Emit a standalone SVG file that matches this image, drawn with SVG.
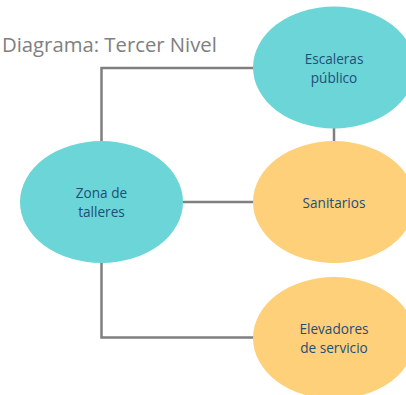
<svg xmlns="http://www.w3.org/2000/svg" width="406" height="395" viewBox="0 0 406 395">
<style>
.teal{fill:#6bd5d7}
.orange{fill:#fdd079}
.lbl{font-family:"Open Sans","Liberation Sans",sans-serif;font-size:13.6px;fill:#1f4e79;text-anchor:middle}
.conn{fill:none;stroke:#7f7f7f;stroke-width:2.5}
.title{font-family:"Open Sans","Liberation Sans",sans-serif;font-size:20.3px;fill:#808080}
</style>
<rect width="406" height="395" fill="#ffffff"/>
<text class="title" x="2" y="52">Diagrama: Tercer Nivel</text>
<g id="connectors">
<polyline class="conn" points="101.5,141 101.5,68 254,68"/>
<line class="conn" x1="182" y1="202" x2="254" y2="202"/>
<line class="conn" x1="334" y1="127" x2="334" y2="142"/>
<polyline class="conn" points="101.5,262 101.5,337.5 254,337.5"/>
</g>
<g id="escaleras">
<ellipse class="teal" cx="334" cy="67.5" rx="81" ry="61"/>
<text class="lbl" x="334" y="64">Escaleras</text>
<text class="lbl" x="334" y="83">público</text>
</g>
<g id="zona">
<ellipse class="teal" cx="101.5" cy="202" rx="81.5" ry="61"/>
<text class="lbl" x="101.5" y="198">Zona de</text>
<text class="lbl" x="101.5" y="217">talleres</text>
</g>
<g id="sanitarios">
<ellipse class="orange" cx="334" cy="202" rx="81" ry="61"/>
<text class="lbl" x="334" y="208">Sanitarios</text>
</g>
<g id="elevadores">
<ellipse class="orange" cx="334" cy="338" rx="81" ry="61"/>
<text class="lbl" x="334" y="334">Elevadores</text>
<text class="lbl" x="334" y="353">de servicio</text>
</g>
</svg>
